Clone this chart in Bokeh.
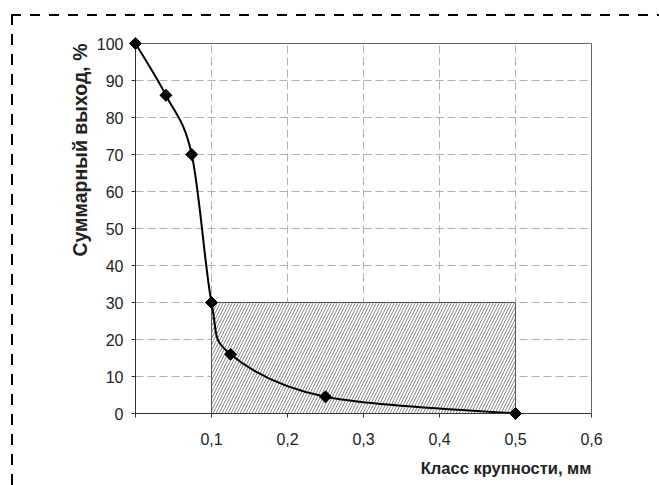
import math
from bokeh.plotting import figure
from bokeh.models import FixedTicker, Range1d, Title
from bokeh.embed import file_html
from bokeh.resources import INLINE

# ---- data ----
size_mm = [0.0, 0.04, 0.074, 0.1, 0.125, 0.25, 0.5]
cum_yield = [100, 86, 70, 30, 16, 4.5, 0]
rect_x = [0.1, 0.5]
rect_y = [0, 30]
x_ticks = [0, 0.1, 0.2, 0.3, 0.4, 0.5, 0.6]
x_tick_labels = ["", "0,1", "0,2", "0,3", "0,4", "0,5", "0,6"]
y_ticks = [0, 10, 20, 30, 40, 50, 60, 70, 80, 90, 100]
x_title = "Класс крупности, мм"
y_title = "Суммарный выход, %"

FONT = "Liberation Sans"

border_css = {
    "background-image": ("repeating-linear-gradient(to right, black 0px, black 10px, transparent 10px, transparent 19px), "
                         "repeating-linear-gradient(to bottom, black 0px, black 11px, transparent 11px, transparent 20px)"),
    "background-size": "700px 2px, 2px 520px",
    "background-position": "11px 14px, 11px 14px",
    "background-repeat": "no-repeat",
}

p = figure(width=659, height=485, x_range=Range1d(0, 0.6), y_range=Range1d(0, 100),
           output_backend="svg", toolbar_location=None,
           min_border_left=135, min_border_right=68, min_border_top=43, min_border_bottom=72,
           styles=border_css)
p.border_fill_color = None
p.background_fill_color = "white"
p.outline_line_color = "#666666"
p.outline_line_width = 1

for ax in (p.xaxis[0], p.yaxis[0]):
    ax.axis_line_color = "#333333"
    ax.major_tick_line_color = "#333333"
    ax.major_tick_in = 0
    ax.major_tick_out = 4
    ax.minor_tick_line_color = None
    ax.major_label_text_font = FONT
    ax.major_label_text_font_size = "16px"
    ax.major_label_text_color = "#222222"

p.xaxis.ticker = FixedTicker(ticks=x_ticks)
p.xaxis.major_label_overrides = {t: l for t, l in zip(x_ticks, x_tick_labels)}
p.xaxis.major_label_standoff = 15
p.yaxis.ticker = FixedTicker(ticks=y_ticks)
p.yaxis.major_label_standoff = 8

for g in (p.xgrid[0], p.ygrid[0]):
    g.grid_line_color = "#b0b0b0"
    g.grid_line_dash = "8 4"
    g.grid_line_width = 1
p.xgrid.ticker = FixedTicker(ticks=x_ticks)
p.ygrid.ticker = FixedTicker(ticks=y_ticks)

# hatched rectangle
p.quad(left=rect_x[0], right=rect_x[1], bottom=rect_y[0], top=rect_y[1],
       fill_color="white", line_color="#555555", line_width=1,
       hatch_pattern="/", hatch_color="#8a8a8a", hatch_scale=6, hatch_weight=1)

# smoothed curve (Catmull-Rom -> Bezier control points)
n = len(size_mm)
x0, y0, x1, y1, cx0, cy0, cx1, cy1 = ([] for _ in range(8))
for i in range(n - 1):
    pm = max(i - 1, 0)
    pp = min(i + 2, n - 1)
    x0.append(size_mm[i]); y0.append(cum_yield[i])
    x1.append(size_mm[i + 1]); y1.append(cum_yield[i + 1])
    cx0.append(size_mm[i] + (size_mm[i + 1] - size_mm[pm]) / 6)
    cy0.append(cum_yield[i] + (cum_yield[i + 1] - cum_yield[pm]) / 6)
    cx1.append(size_mm[i + 1] - (size_mm[pp] - size_mm[i]) / 6)
    cy1.append(cum_yield[i + 1] - (cum_yield[pp] - cum_yield[i]) / 6)
p.bezier(x0=x0, y0=y0, x1=x1, y1=y1, cx0=cx0, cy0=cy0, cx1=cx1, cy1=cy1,
         line_color="black", line_width=2)

p.scatter(size_mm, cum_yield, marker="square", angle=math.pi / 4, size=8.5,
          fill_color="black", line_color="black", level="overlay")

p.add_layout(Title(text=x_title, align="right", text_font=FONT, text_font_style="bold",
                   text_font_size="16.5px", text_color="#222222", standoff=18), "below")
p.add_layout(Title(text=y_title, align="right", text_font=FONT, text_font_style="bold",
                   text_font_size="19.5px", text_color="#222222", standoff=6), "left")

open("out.html", "w").write(file_html(p, INLINE))
